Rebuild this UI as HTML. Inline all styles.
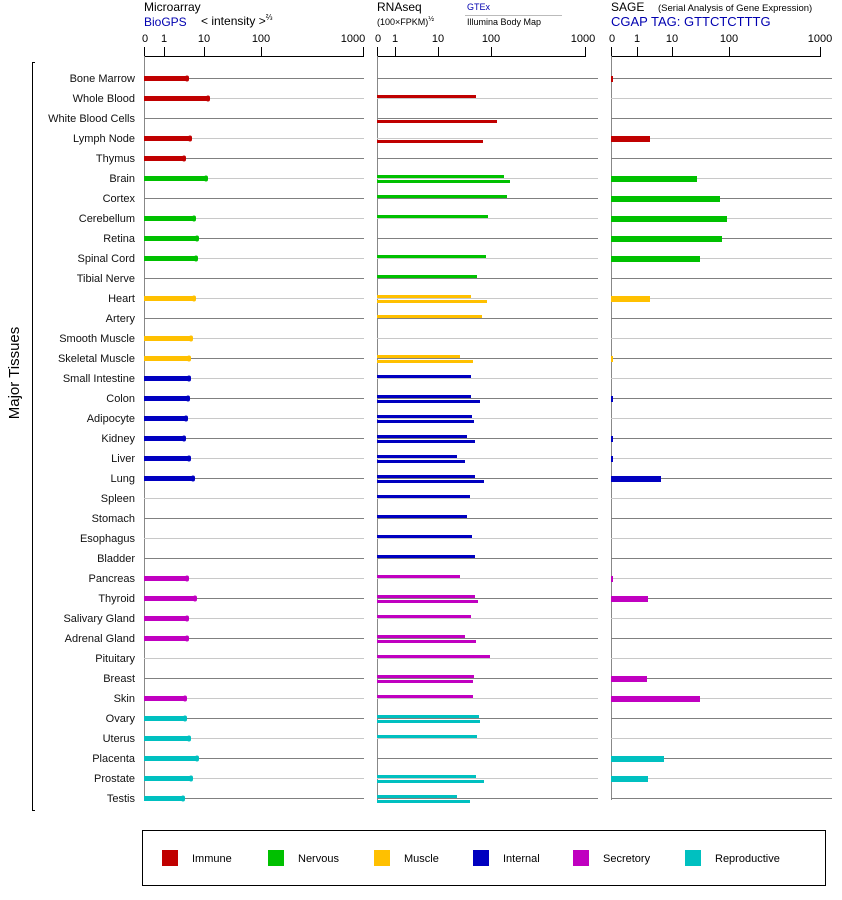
<!DOCTYPE html>
<html><head><meta charset="utf-8"><style>
body{margin:0;background:#fff}
svg{display:block;font-family:"Liberation Sans",Arial,sans-serif}
.l{font-size:11px;text-anchor:end;fill:#111}
.t{font-size:11px;fill:#000}
</style></head><body>
<svg width="842" height="900" viewBox="0 0 842 900">
<g class="t">
<text x="144" y="11" font-size="12">Microarray</text>
<text x="144" y="26" font-size="12" fill="#0000b0">BioGPS</text>
<text x="201" y="25" font-size="12">&lt; intensity &gt;<tspan font-size="8" dy="-5">⅔</tspan></text>
<text x="377" y="11" font-size="12">RNAseq</text>
<text x="377" y="25" font-size="9">(100×FPKM)<tspan font-size="7" dy="-4">½</tspan></text>
<text x="467" y="10" font-size="9" fill="#0000b0">GTEx</text>
<text x="467" y="25" font-size="9">Illumina Body Map</text>
<text x="611" y="11" font-size="12">SAGE</text>
<text x="658" y="11" font-size="9.5">(Serial Analysis of Gene Expression)</text>
<text x="611" y="26" font-size="13" fill="#0000b0">CGAP TAG: GTTCTCTTTG</text>
</g>
<line x1="465" y1="15.5" x2="562" y2="15.5" stroke="#bbb"/>
<g font-size="11" text-anchor="middle">
<text x="145" y="42">0</text><text x="164" y="42">1</text><text x="204" y="42">10</text><text x="261" y="42">100</text><text x="353" y="42">1000</text>
<text x="378" y="42">0</text><text x="395" y="42">1</text><text x="438" y="42">10</text><text x="491" y="42">100</text><text x="583" y="42">1000</text>
<text x="612" y="42">0</text><text x="637" y="42">1</text><text x="672" y="42">10</text><text x="729" y="42">100</text><text x="820" y="42">1000</text>
</g>
<g stroke="#000" stroke-width="1" fill="none">
<path d="M144.5 47V56.5H363.5V47M164.5 47V56M204.5 47V56M261.5 47V56"/>
<path d="M377.5 47V56.5H585.5V47M395.5 47V56M438.5 47V56M491.5 47V56"/>
<path d="M611.5 47V56.5H820.5V47M637.5 47V56M672.5 47V56M729.5 47V56"/>
<path d="M35 62.5H32.5V810.5H35"/>
</g>
<g stroke="#888"><line x1="144.5" y1="56" x2="144.5" y2="800"/><line x1="377.5" y1="56" x2="377.5" y2="800"/><line x1="611.5" y1="56" x2="611.5" y2="800"/></g>
<text x="19" y="373" font-size="15" text-anchor="middle" transform="rotate(-90 19 373)">Major Tissues</text>
<g id="lines"></g>
<g class="l">
<text x="135" y="82">Bone Marrow</text><text x="135" y="102">Whole Blood</text><text x="135" y="122">White Blood Cells</text><text x="135" y="142">Lymph Node</text><text x="135" y="162">Thymus</text><text x="135" y="182">Brain</text><text x="135" y="202">Cortex</text><text x="135" y="222">Cerebellum</text><text x="135" y="242">Retina</text><text x="135" y="262">Spinal Cord</text><text x="135" y="282">Tibial Nerve</text><text x="135" y="302">Heart</text><text x="135" y="322">Artery</text><text x="135" y="342">Smooth Muscle</text><text x="135" y="362">Skeletal Muscle</text><text x="135" y="382">Small Intestine</text><text x="135" y="402">Colon</text><text x="135" y="422">Adipocyte</text><text x="135" y="442">Kidney</text><text x="135" y="462">Liver</text><text x="135" y="482">Lung</text><text x="135" y="502">Spleen</text><text x="135" y="522">Stomach</text><text x="135" y="542">Esophagus</text><text x="135" y="562">Bladder</text><text x="135" y="582">Pancreas</text><text x="135" y="602">Thyroid</text><text x="135" y="622">Salivary Gland</text><text x="135" y="642">Adrenal Gland</text><text x="135" y="662">Pituitary</text><text x="135" y="682">Breast</text><text x="135" y="702">Skin</text><text x="135" y="722">Ovary</text><text x="135" y="742">Uterus</text><text x="135" y="762">Placenta</text><text x="135" y="782">Prostate</text><text x="135" y="802">Testis</text>
</g>
<g id="bars"></g>
<rect x="142.5" y="830.5" width="683" height="55" fill="none" stroke="#000"/>
<rect x="162" y="850" width="16" height="16" fill="#c00000"/><rect x="268" y="850" width="16" height="16" fill="#00c000"/><rect x="374" y="850" width="16" height="16" fill="#ffc000"/><rect x="473" y="850" width="16" height="16" fill="#0000c0"/><rect x="573" y="850" width="16" height="16" fill="#c000c0"/><rect x="685" y="850" width="16" height="16" fill="#00c0c0"/>
<g font-size="11"><text x="192" y="862">Immune</text><text x="298" y="862">Nervous</text><text x="404" y="862">Muscle</text><text x="503" y="862">Internal</text><text x="603" y="862">Secretory</text><text x="715" y="862">Reproductive</text></g>
</svg>
<script>
var C=["#c00000","#00c000","#ffc000","#0000c0","#c000c0","#00c0c0"];
function col(i){return i<5?C[0]:i<11?C[1]:i<15?C[2]:i<25?C[3]:i<32?C[4]:C[5];}
var M=[188,209,0,191,185,207,0,195,198,197,0,195,0,192,190,190,189,187,185,190,194,0,0,0,0,188,196,188,188,0,0,186,186,190,198,192,184];
var R=[[0,0],[476,0],[0,497],[0,483],[0,0],[504,510],[507,0],[488,0],[0,0],[486,0],[477,0],[471,487],[482,0],[0,0],[460,473],[471,0],[471,480],[472,474],[467,475],[457,465],[475,484],[470,0],[467,0],[472,0],[475,0],[460,0],[475,478],[471,0],[465,476],[490,0],[474,473],[473,0],[479,480],[477,0],[0,0],[476,484],[457,470]];
var S={0:613,3:650,5:697,6:720,7:727,8:722,9:700,11:650,14:613,16:613,18:613,19:613,20:661,25:613,26:648,30:647,31:700,34:664,35:648};
var L='',B='';
for(var i=0;i<37;i++){var y=78+20*i,s=i%2?"#c8c8c8":"#808080";
L+='<line x1="144" y1="'+(y+.5)+'" x2="364" y2="'+(y+.5)+'" stroke="'+s+'"/><line x1="377" y1="'+(y+.5)+'" x2="598" y2="'+(y+.5)+'" stroke="'+s+'"/><line x1="611" y1="'+(y+.5)+'" x2="832" y2="'+(y+.5)+'" stroke="'+s+'"/>';
var c=col(i);
if(M[i]){B+='<rect x="144" y="'+(y-2)+'" width="'+(M[i]-146)+'" height="5" fill="'+c+'"/><rect x="'+(M[i]-3)+'" y="'+(y-2.5)+'" width="4" height="6" rx="2" fill="'+c+'"/>';}
if(R[i][0])B+='<rect x="377" y="'+(y-3)+'" width="'+(R[i][0]-377)+'" height="3" fill="'+c+'"/>';
if(R[i][1])B+='<rect x="377" y="'+(y+2)+'" width="'+(R[i][1]-377)+'" height="3" fill="'+c+'"/>';
if(S[i])B+='<rect x="611" y="'+(y-2)+'" width="'+(S[i]-611)+'" height="6" fill="'+c+'"/>';
}
document.getElementById('lines').innerHTML=L;document.getElementById('bars').innerHTML=B;
</script>
</body></html>
